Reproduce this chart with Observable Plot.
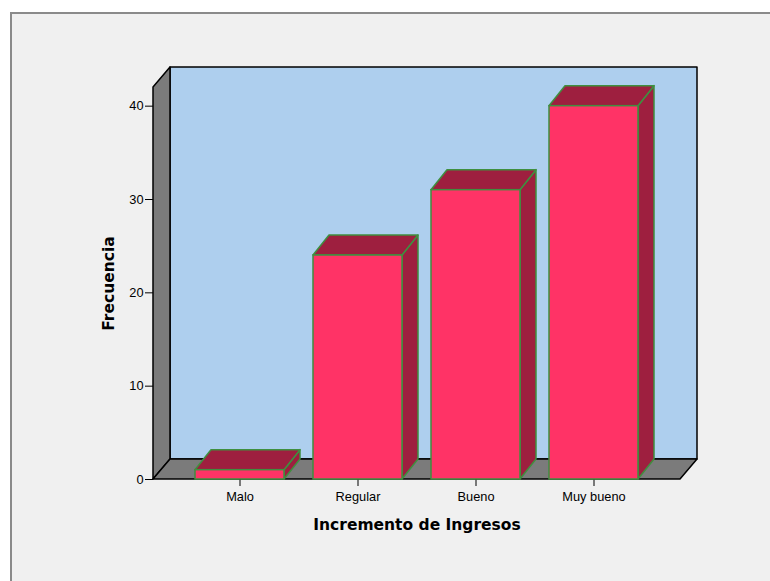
<!DOCTYPE html>
<html><head><meta charset="utf-8">
<script src="https://cdn.jsdelivr.net/npm/d3@7"></script>
<script src="https://cdn.jsdelivr.net/npm/@observablehq/plot@0.6"></script>
<style>
html,body{margin:0;padding:0;background:#fff;width:770px;height:581px;overflow:hidden}
#frame{position:absolute;left:10px;top:12px;width:800px;height:640px;background:#f0f0f0;border-left:2px solid #8a8a8a;border-top:2px solid #8a8a8a;box-sizing:border-box}
#chart{position:absolute;left:0;top:0}
</style></head><body><div id="frame"></div><div id="chart"></div>
<script>
const categories = ["Malo", "Regular", "Bueno", "Muy bueno"];
const frequencies = [1, 24, 31, 40];
const yTicks = [0, 10, 20, 30, 40];
const xTitle = "Incremento de Ingresos";
const yTitle = "Frecuencia";

const data = categories.map((c, i) => ({category: c, value: frequencies[i]}));

const WALL = {dx: 17, dy: -20};
const BAR = {dx: 16, dy: -20};
const C = {front: "#ff3366", dark: "#9e1f3f", edge: "#3f8f3f", wall: "#7b7b7b", back: "#aecfee"};

const pts = (a) => a.map(p => p.join(",")).join(" ");

function walls(index, scales, values, dim) {
  const x0 = dim.marginLeft, x1 = dim.width - dim.marginRight;
  const yt = dim.marginTop, yb = dim.height - dim.marginBottom;
  const g = d3.create("svg:g").attr("stroke", "#000").attr("stroke-width", 1.5).attr("stroke-linejoin", "round");
  g.append("rect").attr("x", x0 + WALL.dx).attr("y", yt + WALL.dy)
    .attr("width", x1 - x0).attr("height", yb - yt).attr("fill", C.back);
  g.append("polygon").attr("fill", C.wall)
    .attr("points", pts([[x0, yt], [x0 + WALL.dx, yt + WALL.dy], [x0 + WALL.dx, yb + WALL.dy], [x0, yb]]));
  g.append("polygon").attr("fill", C.wall)
    .attr("points", pts([[x0, yb], [x0 + WALL.dx, yb + WALL.dy], [x1 + WALL.dx, yb + WALL.dy], [x1, yb]]));
  return g.node();
}

function barFaces(index, scales) {
  const x = scales.x, y = scales.y, w = x.bandwidth();
  const g = d3.create("svg:g").attr("fill", C.dark).attr("stroke", C.edge).attr("stroke-width", 1.5).attr("stroke-linejoin", "round");
  for (const d of data) {
    const xl = x(d.category), xr = xl + w, yv = y(d.value), y0 = y(0);
    g.append("polygon").attr("points", pts([[xr, yv], [xr + BAR.dx, yv + BAR.dy], [xr + BAR.dx, y0 + BAR.dy], [xr, y0]]));
    g.append("polygon").attr("points", pts([[xl, yv], [xl + BAR.dx, yv + BAR.dy], [xr + BAR.dx, yv + BAR.dy], [xr, yv]]));
  }
  return g.node();
}

const chart = Plot.plot({
  width: 770,
  height: 581,
  marginLeft: 153,
  marginRight: 90,
  marginTop: 87,
  marginBottom: 102,
  style: {background: "transparent", color: "#000", fontFamily: "'Liberation Sans', Arial, sans-serif", fontSize: "12.8px", overflow: "visible"},
  x: {domain: categories, paddingInner: 0.25, paddingOuter: 0, insetLeft: 41, insetRight: 41, label: null, tickSize: 7, tickPadding: 5},
  y: {domain: [0, 42], ticks: yTicks, tickSize: 8, tickPadding: 2, label: null},
  marks: [
    walls,
    barFaces,
    Plot.barY(data, {x: "category", y: "value", fill: C.front, stroke: C.edge, strokeWidth: 1.5}),
    Plot.text([yTitle], {text: d => d, frameAnchor: "left", textAnchor: "middle", rotate: -90, dx: -44, fontWeight: "bold", fontSize: 15.5, fontFamily: "DejaVu Sans", fill: "#000"}),
    Plot.text([xTitle], {text: d => d, frameAnchor: "bottom", textAnchor: "middle", dy: 50, fontWeight: "bold", fontSize: 15.5, fontFamily: "DejaVu Sans", fill: "#000"})
  ]
});
document.getElementById("chart").append(chart);
</script></body></html>
